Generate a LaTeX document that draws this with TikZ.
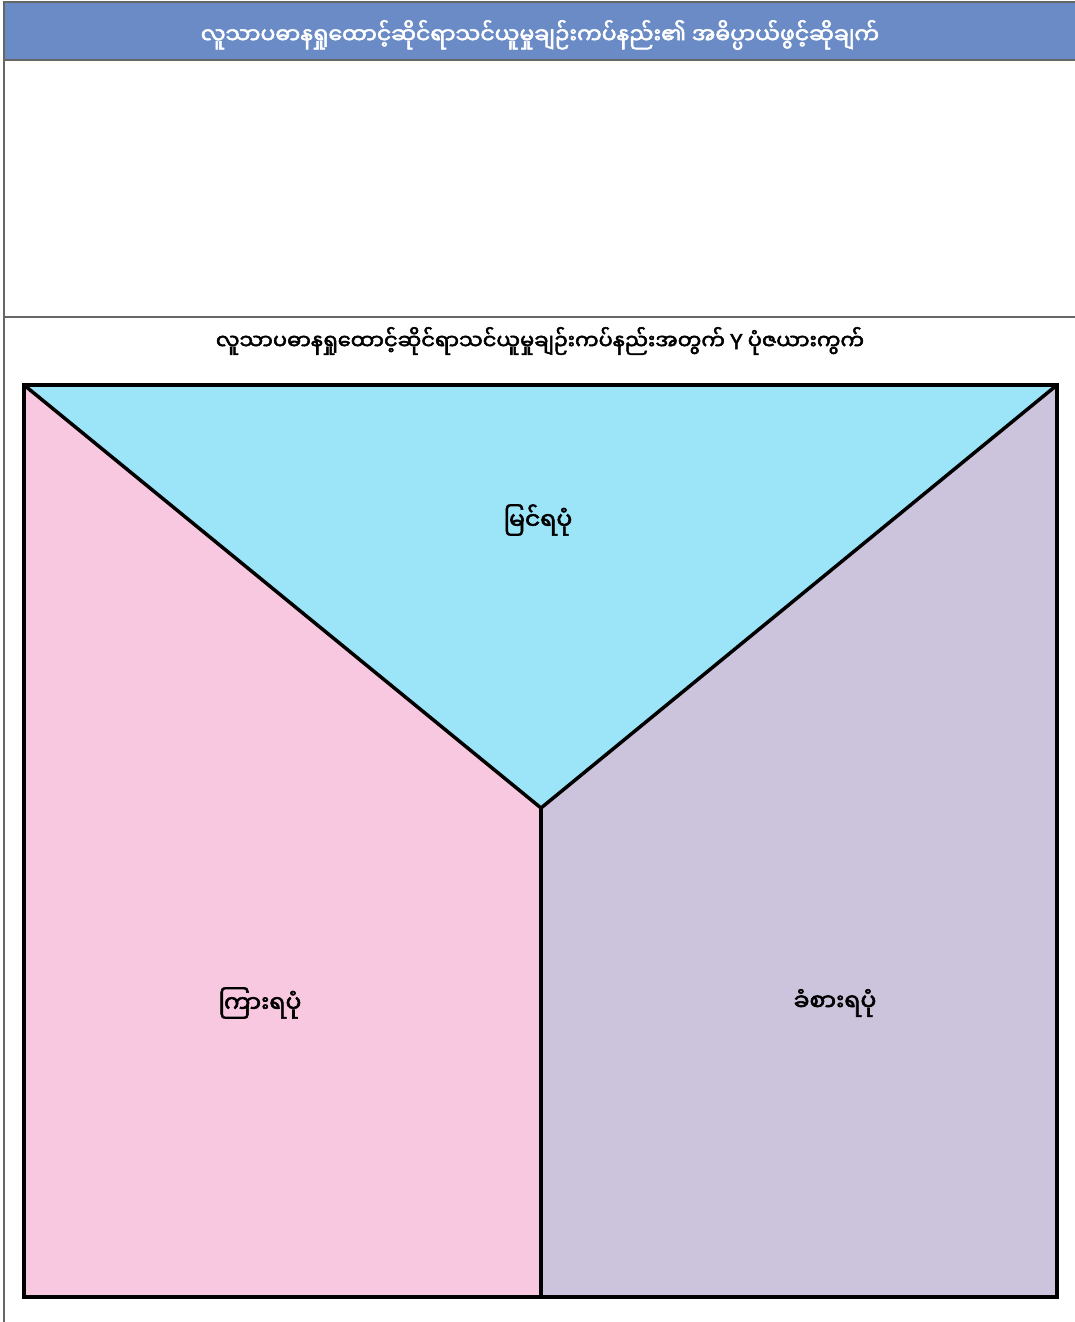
\documentclass[tikz,border=0pt]{standalone}
\usepackage{fontspec}
\newfontfamily\mya[Script=Myanmar,AutoFakeBold=2.5]{Noto Sans Myanmar UI}
\newfontfamily\lat[AutoFakeBold=2.5]{Noto Sans}
\definecolor{hdr}{HTML}{6A8BC6}
\definecolor{cyanf}{HTML}{9CE5F8}
\definecolor{pinkf}{HTML}{F7C8DF}
\definecolor{lavf}{HTML}{CCC3DC}
\definecolor{frame}{HTML}{666666}
\tikzset{
  lbl/.style={font=\mya\bfseries\fontsize{23.5}{28}\selectfont, text=black},
  edge/.style={line width=3.5pt, black, line join=miter}
}
\begin{document}
\begin{tikzpicture}[x=1pt,y=-1pt]
\useasboundingbox (0,0) rectangle (1075,1322);
\clip (0,0) rectangle (1075,1322);
\fill[white] (0,0) rectangle (1075,1322);
% header
\fill[hdr] (4,2) rectangle (1080,60);
\draw[frame, line width=1.5pt] (4,2) rectangle (1090,1340);
\draw[frame, line width=1.5pt] (4,60) -- (1090,60);
\draw[frame, line width=1.2pt] (4,317) -- (1090,317);
\node[font=\mya\bfseries\fontsize{22}{26}\selectfont, text=white] (title) at (540,35) {လူသာပဓာနရှုထောင့်ဆိုင်ရာသင်ယူမှုချဉ်းကပ်နည်း၏ အဓိပ္ပာယ်ဖွင့်ဆိုချက်};
\node[font=\mya\bfseries\fontsize{21}{25}\selectfont, text=black] (sub) at (540,341) {လူသာပဓာနရှုထောင့်ဆိုင်ရာသင်ယူမှုချဉ်းကပ်နည်းအတွက် {\lat\bfseries Y} ပုံဇယားကွက်};
% Y chart
\coordinate (tl) at (24,385);
\coordinate (tr) at (1057,385);
\coordinate (bl) at (24,1297);
\coordinate (br) at (1057,1297);
\coordinate (c) at (541,808);
\coordinate (cb) at (541,1297);
\fill[cyanf] (tl) -- (tr) -- (c) -- cycle;
\fill[pinkf] (tl) -- (c) -- (cb) -- (bl) -- cycle;
\fill[lavf] (tr) -- (c) -- (cb) -- (br) -- cycle;
\draw[edge] (tl) rectangle (br);
\draw[edge] (tl) -- (c) -- (tr);
\draw[edge] (c) -- (cb);
\node[lbl] (see) at (538,520) {မြင်ရပုံ};
\node[lbl] (hear) at (260,1003) {ကြားရပုံ};
\node[lbl] (feel) at (835,1003) {ခံစားရပုံ};
\end{tikzpicture}
\end{document}
